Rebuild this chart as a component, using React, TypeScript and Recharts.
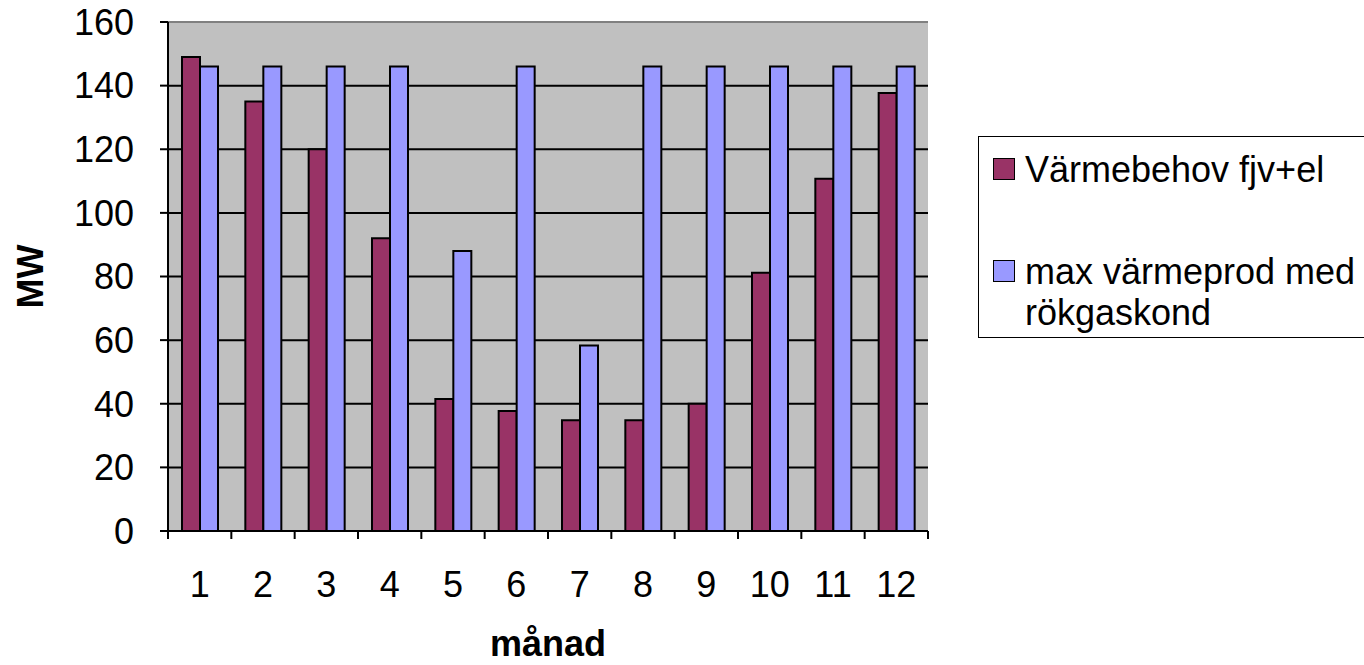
import { Bar, BarChart, CartesianGrid, Legend, ReferenceLine, XAxis, YAxis } from "recharts";

const months = ["1", "2", "3", "4", "5", "6", "7", "8", "9", "10", "11", "12"];
const varmebehov = [149, 135, 120, 92, 41.5, 37.7, 34.8, 34.8, 40, 81.2, 110.7, 137.7];
const maxProd = [146, 146, 146, 146, 88, 146, 58.3, 146, 146, 146, 146, 146];
const yTicks = [0, 20, 40, 60, 80, 100, 120, 140, 160];
const gridValues = [20, 40, 60, 80, 100, 120, 140];

const data = months.map((m, i) => ({
  month: m,
  behov: varmebehov[i],
  maxprod: maxProd[i],
}));

const font = "'Liberation Sans', Arial, sans-serif";
const TICK_MARGIN = 40;

// month label in the band centre, tick marks on the band edges (Excel style)
function MonthTick(props: any) {
  const { x, y, payload, index, visibleTicksCount } = props;
  const axisY = y - TICK_MARGIN;
  const half = payload?.offset ?? 0;
  return (
    <g>
      <line x1={x - half} x2={x - half} y1={axisY} y2={axisY + 8} stroke="#000" strokeWidth={2} />
      {index === visibleTicksCount - 1 && (
        <line x1={x + half} x2={x + half} y1={axisY} y2={axisY + 8} stroke="#000" strokeWidth={2} />
      )}
      <text x={x} y={y} dy="0.71em" textAnchor="middle" fill="#000" fontSize={36} fontFamily={font}>
        {payload.value}
      </text>
    </g>
  );
}

function LegendBox({ payload }: any) {
  const items = payload || [];
  return (
    <div
      style={{
        width: 400,
        height: 202,
        border: "1.5px solid #000",
        background: "#fff",
        boxSizing: "border-box",
        fontFamily: font,
        fontSize: 36,
        color: "#000",
        position: "relative",
        textAlign: "left",
      }}
    >
      {items.map((it: any, i: number) => (
        <div
          key={i}
          style={{
            position: "absolute",
            left: 14,
            top: i === 0 ? 12 : 114,
            display: "flex",
            alignItems: "flex-start",
          }}
        >
          <span
            style={{
              display: "inline-block",
              width: 20,
              height: 20,
              background: it.color,
              border: "1.5px solid #000",
              marginTop: 9,
              marginRight: 10,
              flexShrink: 0,
            }}
          />
          <span style={{ lineHeight: "41px", width: 345 }}>{it.value}</span>
        </div>
      ))}
    </div>
  );
}

export default function App() {
  return (
    <div style={{ position: "absolute", left: 0, top: 0, background: "#fff" }}>
      <BarChart
        width={1364}
        height={665}
        data={data}
        margin={{ top: 22, right: 436, bottom: 0, left: 0 }}
        barGap={0}
        style={{ fontFamily: font }}
      >
        <CartesianGrid
          vertical={false}
          horizontalValues={gridValues}
          stroke="#000"
          strokeWidth={2}
          fill="#C0C0C0"
          fillOpacity={1}
        />
        <XAxis
          dataKey="month"
          height={134}
          axisLine={{ stroke: "#000", strokeWidth: 2 }}
          tickLine={false}
          tickSize={0}
          tickMargin={TICK_MARGIN}
          interval={0}
          tick={<MonthTick />}
          label={{
            value: "månad",
            position: "insideBottom",
            offset: 9,
            style: { fill: "#000", fontSize: 36, fontWeight: "bold" },
          }}
        />
        <YAxis
          width={168}
          domain={[0, 160]}
          ticks={yTicks}
          interval={0}
          tickSize={8}
          tickMargin={26}
          tick={{ fill: "#000", fontSize: 36 }}
          tickLine={{ stroke: "#000", strokeWidth: 2 }}
          axisLine={{ stroke: "#000", strokeWidth: 2 }}
          label={{
            value: "MW",
            angle: -90,
            position: "insideLeft",
            offset: 30,
            style: { fill: "#000", fontSize: 36, fontWeight: "bold", textAnchor: "middle" },
          }}
        />
        <YAxis
          yAxisId="border"
          orientation="right"
          width={0}
          domain={[0, 160]}
          tick={false}
          tickLine={false}
          axisLine={{ stroke: "#808080", strokeWidth: 2 }}
        />
        <ReferenceLine y={160} stroke="#808080" strokeWidth={2} />
        <Legend
          layout="horizontal"
          verticalAlign="middle"
          align="center"
          content={<LegendBox />}
          wrapperStyle={{ left: 978, top: 136, width: 400 }}
        />
        <Bar
          dataKey="behov"
          name="Värmebehov fjv+el"
          fill="#993366"
          stroke="#000"
          strokeWidth={2}
          barSize={18}
          isAnimationActive={false}
        />
        <Bar
          dataKey="maxprod"
          name="max värmeprod med rökgaskond"
          fill="#9999FF"
          stroke="#000"
          strokeWidth={2}
          barSize={18}
          isAnimationActive={false}
        />
      </BarChart>
    </div>
  );
}
